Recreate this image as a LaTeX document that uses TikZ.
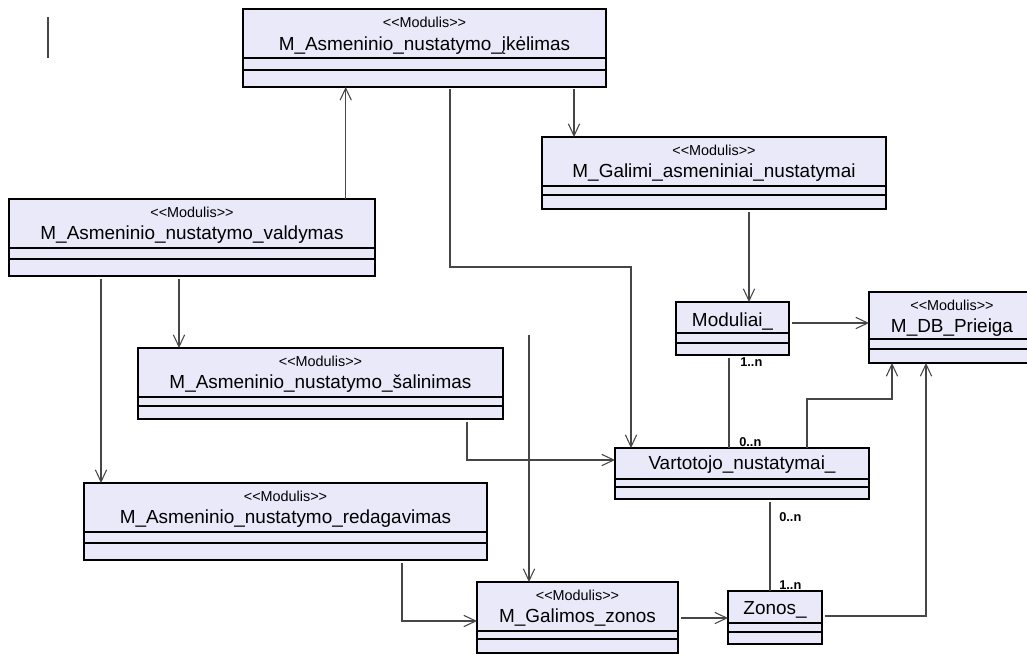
\documentclass[tikz,border=0pt]{standalone}
\usepackage{fontspec}
\setmainfont{Liberation Sans}
\usetikzlibrary{arrows.meta}
\definecolor{boxfill}{RGB}{233,233,250}
\definecolor{conncol}{RGB}{70,70,70}
\tikzset{
  umlbox/.style={draw=black, line width=1.1pt, fill=boxfill, inner sep=0pt, outer sep=0pt, rectangle},
  compline/.style={draw=black, line width=0.8pt},
  stereo/.style={anchor=base, inner sep=0pt, font=\fontsize{10.8}{12}\selectfont},
  clsname/.style={anchor=base, inner sep=0pt, font=\fontsize{14.2}{16}\selectfont},
  mult/.style={anchor=base west, inner sep=0pt, font=\bfseries\fontsize{9.6}{11}\selectfont},
  conn/.style={draw=conncol, line width=0.8pt},
  arr/.style={conn, -{Straight Barb[length=9pt,width=8.5pt,line width=0.8pt]}},
}
\newcommand\mybox[7]{%
  \node[umlbox, minimum width={(#4-#2)*0.75pt}, minimum height={(#5-#3)*0.75pt}, anchor=north west] (#1) at (#2,#3) {};
  \draw[compline] (#2,#6) -- (#4,#6) (#2,#7) -- (#4,#7);
}
\newcommand\stereotxt{<{}<Modulis>{}>}
\begin{document}
\begin{tikzpicture}[x=0.75pt,y=-0.75pt]
\useasboundingbox (0,0) rectangle (1027,654);

% boxes
\mybox{ikel}{243}{9}{606}{87}{58}{70}
\mybox{valdymas}{9}{199}{375}{276}{248}{259}
\mybox{galimi}{542}{137}{886}{209}{186}{195}
\mybox{salin}{138}{348}{503}{419}{397}{406}
\mybox{redag}{84}{483}{487}{560}{532}{543}
\mybox{galzon}{477}{582}{678}{653}{631}{639}
\mybox{modul}{676}{302}{789}{355}{333}{343}
\mybox{db}{869}{292}{1040}{363}{339}{349}
\mybox{vart}{615}{448}{869}{499}{479}{487}
\mybox{zonos}{728}{591}{822}{644}{623}{632}

% texts
\node[stereo] (ikel-s) at (424.5,27) {\stereotxt};
\node[clsname] (ikel-n) at (424.5,50) {M\_Asmeninio\_nustatymo\_įkėlimas};
\node[stereo] (valdymas-s) at (192,217) {\stereotxt};
\node[clsname] (valdymas-n) at (192,239.5) {M\_Asmeninio\_nustatymo\_valdymas};
\node[stereo] (galimi-s) at (714,155) {\stereotxt};
\node[clsname] (galimi-n) at (714,177.5) {M\_Galimi\_asmeniniai\_nustatymai};
\node[stereo] (salin-s) at (320.5,366) {\stereotxt};
\node[clsname] (salin-n) at (320.5,388.5) {M\_Asmeninio\_nustatymo\_šalinimas};
\node[stereo] (redag-s) at (285.5,501) {\stereotxt};
\node[clsname] (redag-n) at (285.5,523.5) {M\_Asmeninio\_nustatymo\_redagavimas};
\node[stereo] (galzon-s) at (577.5,600) {\stereotxt};
\node[clsname] (galzon-n) at (577.5,622.5) {M\_Galimos\_zonos};
\node[clsname] (modul-n) at (732.5,326) {Moduliai\_};
\node[stereo] (db-s) at (952,310) {\stereotxt};
\node[clsname] (db-n) at (952,332.5) {M\_DB\_Prieiga};
\node[clsname] (vart-n) at (742,469.5) {Vartotojo\_nustatymai\_};
\node[clsname] (zonos-n) at (775,614) {Zonos\_};

% free marks
\coordinate (bar1) at (48,17);
\coordinate (bar2) at (48,58);
\draw[conn] (bar1) -- (bar2);
\coordinate (freetop) at (529,335);

% connectors
\draw[arr] (valdymas.north -| 345.7,0) -- (ikel.south -| 345.7,0);
\draw[arr] ([yshift=-1.5pt]ikel.south -| 574,0) -- (galimi.north -| 574,0);
\draw[arr] ([yshift=-1.5pt]ikel.south -| 450,0) -- (450,267) -- (631,267) -- (vart.north -| 631,0);
\draw[arr] ([yshift=-2pt]valdymas.south -| 101,0) -- (redag.north -| 101,0);
\draw[arr] ([yshift=-2pt]valdymas.south -| 179,0) -- (salin.north -| 179,0);
\draw[arr] ([yshift=-2pt]salin.south -| 467,0) -- (467,460) -- (vart.west |- 0,460);
\draw[arr] (freetop) -- (galzon.north -| freetop);
\draw[arr] ([yshift=-2pt]redag.south -| 402,0) -- (402,621) -- (galzon.west |- 0,621);
\draw[arr] ([xshift=2pt]galzon.east |- 0,618) -- (zonos.west |- 0,618);
\draw[arr] ([yshift=-2pt]galimi.south -| 749,0) -- (modul.north -| 749,0);
\draw[arr] ([xshift=2pt]modul.east |- 0,323) -- (db.west |- 0,323);
\draw[conn] ([yshift=-2pt]modul.south -| 729,0) -- (vart.north -| 729,0);
\draw[arr] (vart.north -| 807,0) -- (807,399) -- (892,399) -- (db.south -| 892,0);
\draw[arr] ([xshift=2pt]zonos.east |- 0,616) -- (926,616) -- (db.south -| 926,0);
\draw[conn] ([yshift=-2pt]vart.south -| 770,0) -- (zonos.north -| 770,0);

% multiplicities
\node[mult] (m1) at (740,366) {1..n};
\node[mult] (m2) at (739,446) {0..n};
\node[mult] (m3) at (779,521) {0..n};
\node[mult] (m4) at (779,589) {1..n};
\end{tikzpicture}
\end{document}
